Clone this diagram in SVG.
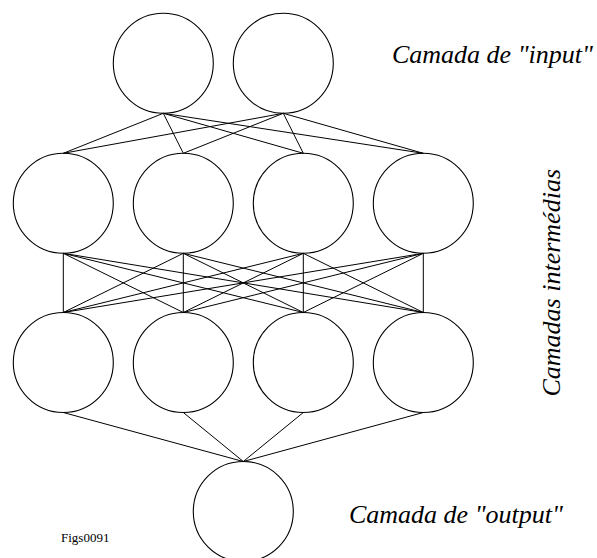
<svg xmlns="http://www.w3.org/2000/svg" width="597" height="558" viewBox="0 0 597 558">
  <style>
    .node { fill: none; stroke: #000; stroke-width: 1.1; }
    .edge { stroke: #000; stroke-width: 1; fill: none; }
    .label { font-family: 'Liberation Serif', 'Times New Roman', serif; font-style: italic; font-size: 26px; fill: #000; }
    .tag { font-family: 'Liberation Serif', 'Times New Roman', serif; font-size: 13px; fill: #000; }
  </style>
  <rect width="597" height="558" fill="#fff"/>

  <!-- connections between layers -->
  <g id="connectors">
    <!-- input -> hidden 1 -->
    <path class="edge" d="M163.3 113.3L63.3 153.3M163.3 113.3L183.3 153.3M163.3 113.3L303.3 153.3M163.3 113.3L423.3 153.3"/>
    <path class="edge" d="M283.3 113.3L63.3 153.3M283.3 113.3L183.3 153.3M283.3 113.3L303.3 153.3M283.3 113.3L423.3 153.3"/>
    <!-- hidden 1 -> hidden 2 -->
    <path class="edge" d="M63.3 253.3L63.3 312.5M63.3 253.3L183.3 312.5M63.3 253.3L303.3 312.5M63.3 253.3L423.3 312.5"/>
    <path class="edge" d="M183.3 253.3L63.3 312.5M183.3 253.3L183.3 312.5M183.3 253.3L303.3 312.5M183.3 253.3L423.3 312.5"/>
    <path class="edge" d="M303.3 253.3L63.3 312.5M303.3 253.3L183.3 312.5M303.3 253.3L303.3 312.5M303.3 253.3L423.3 312.5"/>
    <path class="edge" d="M423.3 253.3L63.3 312.5M423.3 253.3L183.3 312.5M423.3 253.3L303.3 312.5M423.3 253.3L423.3 312.5"/>
    <!-- hidden 2 -> output -->
    <path class="edge" d="M63.3 412.5L243.3 461.5M183.3 412.5L243.3 461.5M303.3 412.5L243.3 461.5M423.3 412.5L243.3 461.5"/>
  </g>

  <!-- input layer -->
  <g id="in1"><circle class="node" cx="163.3" cy="63.3" r="50"/></g>
  <g id="in2"><circle class="node" cx="283.3" cy="63.3" r="50"/></g>

  <!-- first hidden layer -->
  <g id="h1a"><circle class="node" cx="63.3" cy="203.3" r="50"/></g>
  <g id="h1b"><circle class="node" cx="183.3" cy="203.3" r="50"/></g>
  <g id="h1c"><circle class="node" cx="303.3" cy="203.3" r="50"/></g>
  <g id="h1d"><circle class="node" cx="423.3" cy="203.3" r="50"/></g>

  <!-- second hidden layer -->
  <g id="h2a"><circle class="node" cx="63.3" cy="362.5" r="50"/></g>
  <g id="h2b"><circle class="node" cx="183.3" cy="362.5" r="50"/></g>
  <g id="h2c"><circle class="node" cx="303.3" cy="362.5" r="50"/></g>
  <g id="h2d"><circle class="node" cx="423.3" cy="362.5" r="50"/></g>

  <!-- output layer -->
  <g id="out"><circle class="node" cx="243.3" cy="511.5" r="50"/></g>

  <!-- layer labels -->
  <g id="labels">
    <text class="label" x="392" y="63">Camada de "input"</text>
    <text class="label" x="349" y="523">Camada de "output"</text>
    <text class="label" transform="translate(560 396.5) rotate(-90)">Camadas intermédias</text>
  </g>
  <text class="tag" x="61" y="541.5">Figs0091</text>
</svg>
